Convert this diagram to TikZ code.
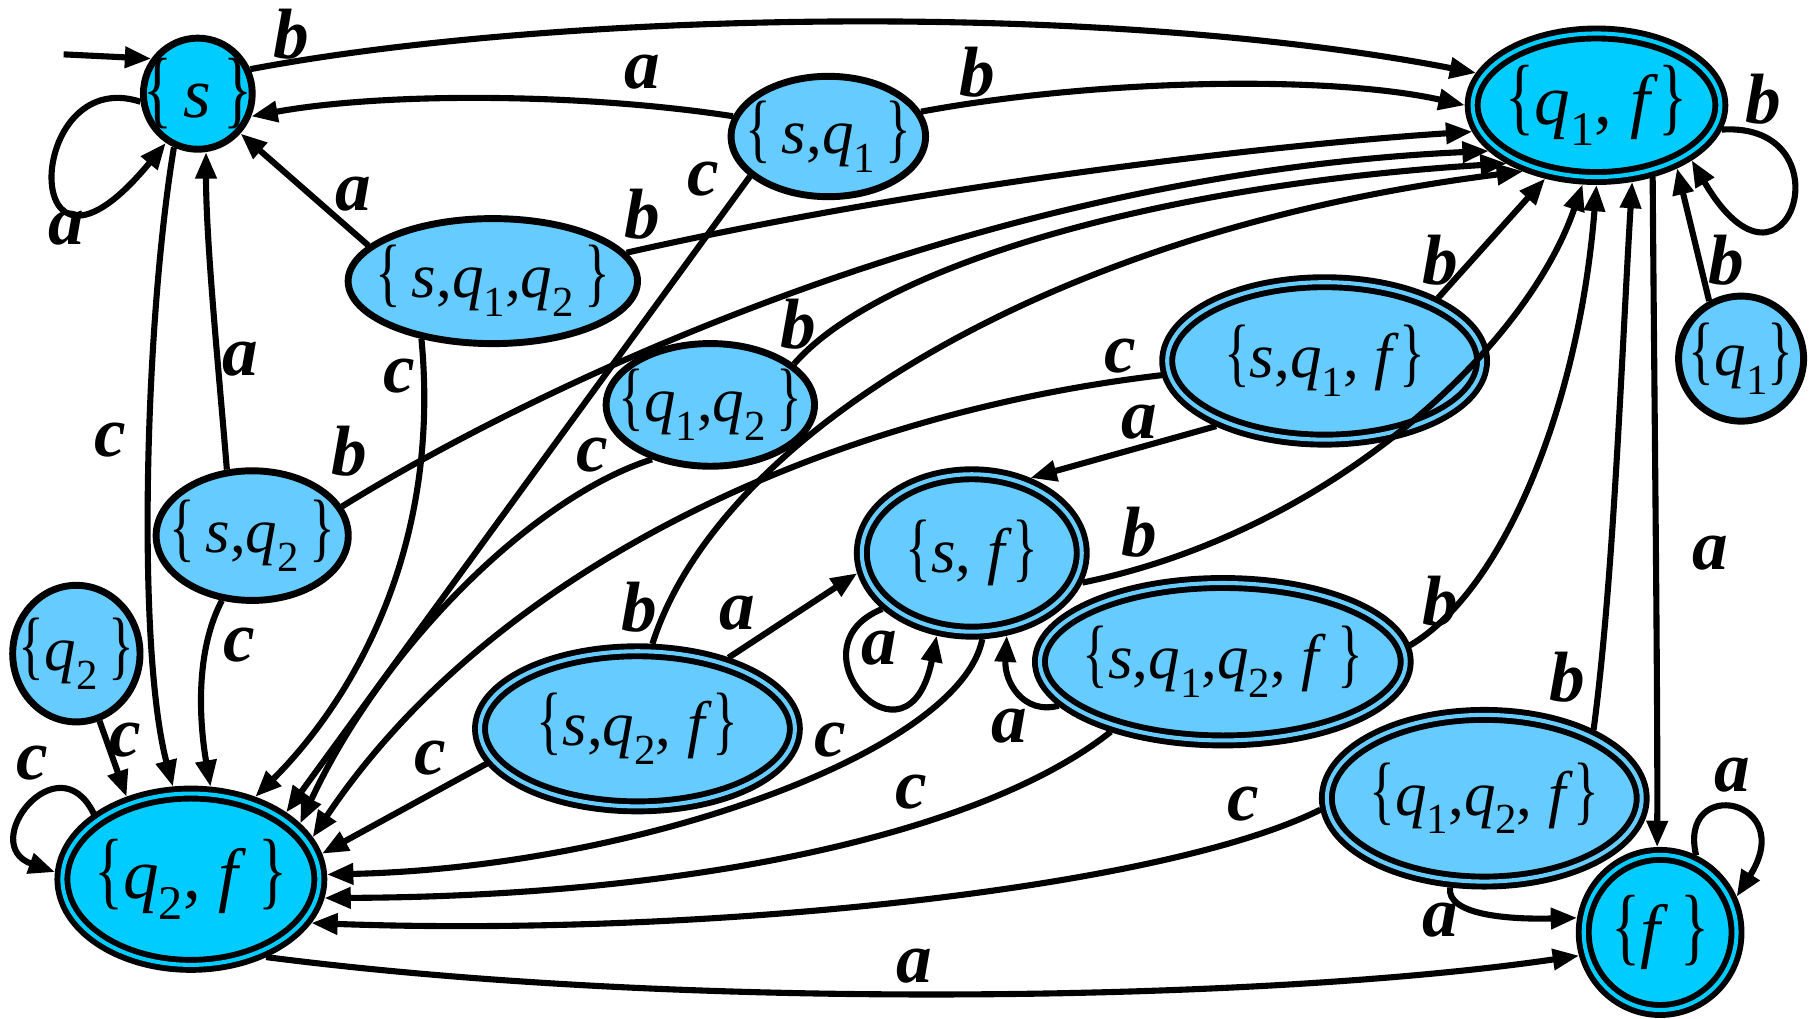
\documentclass[tikz,border=0pt]{standalone}
\usepackage{fontspec}
\setmainfont{Liberation Serif}
\usepackage{graphicx}
\usetikzlibrary{shapes.geometric,arrows.meta}
\definecolor{deep}{RGB}{0,204,255}
\definecolor{lite}{RGB}{102,204,255}
\newcommand\Lbr{\scalebox{0.85}[1.2]{\{}}
\newcommand\Rbr{\scalebox{0.85}[1.2]{\}}}
\newcommand\Sbx[1]{\raisebox{-0.3em}{\scalebox{0.68}{#1}}}
\newcommand\Vs{\textit{s}}
\newcommand\Vf{\textit{f}}
\newcommand\Vq[1]{\textit{q}\Sbx{#1}}
\tikzset{
 st/.style={ellipse, draw, line width=1.7pt, inner sep=0pt, outer sep=0.85pt},
 sl/.style={st, fill=lite},
 sd/.style={st, fill=deep},
 acl/.style={ellipse, draw, fill=lite, double=lite, double distance=1.0pt, line width=1.45pt, inner sep=0pt, outer sep=1.9pt},
 acd/.style={ellipse, draw, fill=deep, double=deep, double distance=1.0pt, line width=1.45pt, inner sep=0pt, outer sep=1.9pt},
 txt/.style={font=\fontsize{15.5}{15.5}\selectfont, inner sep=0pt},
 txtb/.style={font=\fontsize{17.5}{17.5}\selectfont, inner sep=0pt},
 lbl/.style={font=\fontsize{17.5}{17.5}\selectfont\bfseries\itshape, inner sep=0pt},
 tr/.style={line width=1.5pt, -{Triangle[length=6.5pt,width=5pt]}},
}
\begin{document}
\begin{tikzpicture}[x=0.01cm,y=-0.01cm]
\useasboundingbox (0,0) rectangle (1568,880);
% states
\node[sd, minimum width=0.94cm, minimum height=0.96cm] (S) at (171,81) {};
\node[sl, minimum width=1.68cm, minimum height=1.04cm] (SQ1) at (716,118) {};
\node[acd, minimum width=2.14cm, minimum height=1.24cm] (QF1) at (1380,91) {};
\node[sl, minimum width=2.50cm, minimum height=1.08cm] (SQ1Q2) at (426,243) {};
\node[sl, minimum width=1.80cm, minimum height=1.06cm] (Q1Q2) at (614,350) {};
\node[acl, minimum width=2.72cm, minimum height=1.36cm] (SQ1F) at (1145,312) {};
\node[sl, minimum width=1.08cm, minimum height=1.08cm] (Q1) at (1505,310) {};
\node[sl, minimum width=1.66cm, minimum height=1.12cm] (SQ2) at (218,463) {};
\node[acl, minimum width=1.90cm, minimum height=1.36cm] (SF) at (840,478) {};
\node[sl, minimum width=1.10cm, minimum height=1.18cm] (Q2) at (66,565) {};
\node[acl, minimum width=2.72cm, minimum height=1.34cm] (SQ2F) at (551,630) {};
\node[acl, minimum width=3.16cm, minimum height=1.36cm] (SQ1Q2F) at (1057,572) {};
\node[acl, minimum width=2.72cm, minimum height=1.44cm] (Q1Q2F) at (1283,690) {};
\node[acd, minimum width=2.22cm, minimum height=1.48cm] (Q2F) at (165,760) {};
\node[acd, minimum width=1.32cm, minimum height=1.34cm] (F) at (1435,806) {};
% state texts
\node[txtb] (St) at (S) {\Lbr\,\Vs\,\Rbr};
\node[txt] (SQ1t) at (SQ1) {\Lbr\,\Vs,\Vq{1}\,\Rbr};
\node[txtb] (QF1t) at (QF1) {\Lbr\Vq{1}, \Vf\Rbr};
\node[txt] (SQ1Q2t) at (SQ1Q2) {\Lbr\,\Vs,\Vq{1},\Vq{2}\,\Rbr};
\node[txt] (Q1Q2t) at (Q1Q2) {\Lbr\Vq{1},\Vq{2}\,\Rbr};
\node[txt] (SQ1Ft) at (SQ1F) {\Lbr\Vs,\Vq{1}, \Vf\Rbr};
\node[txt] (Q1t) at (Q1) {\Lbr\Vq{1}\Rbr};
\node[txt] (SQ2t) at (SQ2) {\Lbr\,\Vs,\Vq{2}\,\Rbr};
\node[txt] (SFt) at (SF) {\Lbr\Vs, \Vf\Rbr};
\node[txt] (Q2t) at (Q2) {\Lbr\Vq{2}\,\Rbr};
\node[txt] (SQ2Ft) at (SQ2F) {\Lbr\Vs,\Vq{2}, \Vf\Rbr};
\node[txt] (SQ1Q2Ft) at (SQ1Q2F) {\Lbr\Vs,\Vq{1},\Vq{2}, \Vf\,\Rbr};
\node[txt] (Q1Q2Ft) at (Q1Q2F) {\Lbr\Vq{1},\Vq{2}, \Vf\Rbr};
\node[txtb] (Q2Ft) at (Q2F) {\Lbr\Vq{2}, \Vf\,\Rbr};
\node[txtb] (Ft) at (F) {\Lbr\Vf\,\Rbr};
% start
\coordinate (init) at (55,47);
\draw[tr] (init) -- (S.143);
% transitions
\draw[tr] (S.188) .. controls (20,55) and (15,280) .. (S.237);
\draw[tr] (S.25) .. controls (480,10) and (950,0) .. (QF1.165);
\draw[tr] (S.-114) .. controls (125,280) and (118,560) .. (Q2F.101);
\draw[tr] (SQ1.168) .. controls (500,80) and (330,80) .. (S.-23);
\draw[tr] (SQ1.15) .. controls (950,68) and (1150,65) .. (QF1.180);
\draw[tr] (SQ1.-153) -- (Q2F.35);
\draw[tr] (SQ1Q2.164) -- (S.-43);
\draw[tr] (SQ1Q2.12) .. controls (800,160) and (1100,125) .. (QF1.-168);
\draw[tr] (SQ1Q2.-141) .. controls (382,480) and (300,610) .. (Q2F.52);
\draw[tr] (SQ2.111) .. controls (190,330) and (178,210) .. (S.-82);
\draw[tr] (SQ2.18) .. controls (470,330) and (850,150) .. (QF1.-157);
\draw[tr] (SQ2.-115) .. controls (165,570) and (175,640) .. (Q2F.78);
\draw[tr] (Q2.-71) -- (Q2F.128);
\draw[tr] (Q2F.146) .. controls (50,640) and (-20,730) .. (Q2F.177);
\draw[tr] (Q1Q2.26) .. controls (760,230) and (1000,160) .. (QF1.-147);
\draw[tr] (Q1Q2.-137) .. controls (460,430) and (330,560) .. (Q2F.27);
\draw[tr] (SQ2F.80) .. controls (620,380) and (900,200) .. (QF1.-138);
\draw[tr] (SQ2F.38) -- (SF.190);
\draw[tr] (SQ2F.193) -- (Q2F.11);
\draw[tr] (SQ1F.29) -- (QF1.-125);
\draw[tr] (SQ1F.-149) -- (SF.52);
\draw[tr] (SQ1F.185) .. controls (700,360) and (420,500) .. (Q2F.19);
\draw[tr] (SF.-148) .. controls (680,560) and (785,675) .. (SF.-113);
\draw[tr] (SF.-15) .. controls (1150,460) and (1320,300) .. (QF1.-100);
\draw[tr] (SF.-83) .. controls (830,650) and (550,750) .. (Q2F.2);
\draw[tr] (SQ1Q2F.195) .. controls (885,618) and (868,590) .. (SF.-67);
\draw[tr] (SQ1Q2F.5) .. controls (1300,510) and (1365,350) .. (QF1.-90);
\draw[tr] (SQ1Q2F.-148) .. controls (850,720) and (600,775) .. (Q2F.-8);
\draw[tr] (Q1Q2F.32) .. controls (1395,500) and (1402,300) .. (QF1.-65);
\draw[tr] (Q1Q2F.184) .. controls (1000,770) and (600,810) .. (Q2F.-20);
\draw[tr] (Q1Q2F.-111) .. controls (1250,790) and (1300,795) .. (F.170);
\draw[tr] (QF1.-52) .. controls (1430,350) and (1433,600) .. (F.92);
\draw[tr] (Q1.119) -- (QF1.-38);
\draw[tr] (QF1.-11) .. controls (1600,105) and (1545,280) .. (QF1.-30);
\draw[tr] (F.65) .. controls (1450,670) and (1555,690) .. (F.25);
\draw[tr] (Q2F.-46) .. controls (600,875) and (1100,865) .. (F.196);
% labels
\node[lbl] (l1) at (57,197) {a};
\node[lbl] (l2) at (252,30) {b};
\node[lbl] (l3) at (95,380) {c};
\node[lbl] (l4) at (555,62) {a};
\node[lbl] (l5) at (845,62) {b};
\node[lbl] (l6) at (608,155) {c};
\node[lbl] (l7) at (305,168) {a};
\node[lbl] (l8) at (555,185) {b};
\node[lbl] (l9) at (345,325) {c};
\node[lbl] (l10) at (208,310) {a};
\node[lbl] (l11) at (302,390) {b};
\node[lbl] (l12) at (207,558) {c};
\node[lbl] (l13) at (108,640) {c};
\node[lbl] (l14) at (28,660) {c};
\node[lbl] (l15) at (690,280) {b};
\node[lbl] (l16) at (512,393) {c};
\node[lbl] (l17) at (553,525) {b};
\node[lbl] (l18) at (637,530) {a};
\node[lbl] (l19) at (372,655) {c};
\node[lbl] (l20) at (1245,225) {b};
\node[lbl] (l21) at (985,365) {a};
\node[lbl] (l22) at (968,308) {c};
\node[lbl] (l23) at (760,560) {a};
\node[lbl] (l24) at (985,460) {b};
\node[lbl] (l25) at (718,640) {c};
\node[lbl] (l26) at (872,628) {a};
\node[lbl] (l27) at (1245,520) {b};
\node[lbl] (l28) at (788,685) {c};
\node[lbl] (l29) at (1355,585) {b};
\node[lbl] (l30) at (1075,695) {c};
\node[lbl] (l31) at (1245,795) {a};
\node[lbl] (l32) at (1478,478) {a};
\node[lbl] (l33) at (1492,225) {b};
\node[lbl] (l34) at (1524,86) {b};
\node[lbl] (l35) at (1497,670) {a};
\node[lbl] (l36) at (790,835) {a};
\end{tikzpicture}
\end{document}
